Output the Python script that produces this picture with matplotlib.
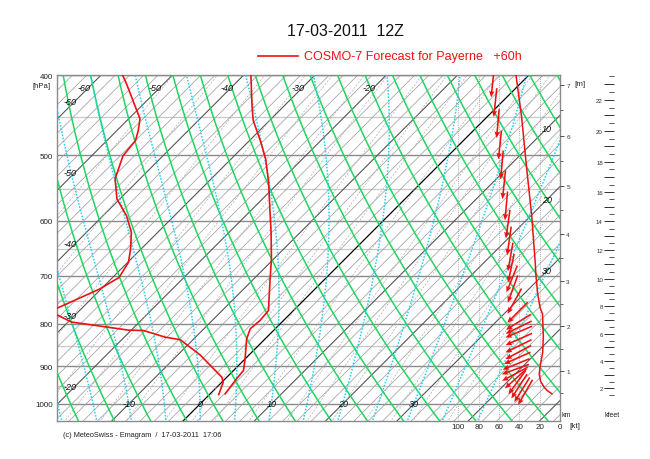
import numpy as np
import matplotlib
matplotlib.use("Agg")
import matplotlib.pyplot as plt
from matplotlib.lines import Line2D
from matplotlib.ticker import FixedLocator, NullFormatter, FixedFormatter

plt.rcParams['font.family'] = ['Liberation Sans', 'DejaVu Sans']

# ---------------- data ----------------
title = "17-03-2011  12Z"
legend_text = "COSMO-7 Forecast for Payerne   +60h"
footer = "(c) MeteoSwiss - Emagram  /  17-03-2011  17:06"

temp_p = [400, 436, 454, 480, 505, 539, 576, 620, 668, 706, 771, 793, 811, 834, 882, 911, 933, 972]
temp_t = [-39.0, -34.5, -32.3, -28.5, -25.2, -21.5, -18.0, -14.1, -10.3, -7.7, -3.5, -3.3, -3.5, -2.6, 0.0, 1.4, 1.6, 2.1]

dew_p = [400, 410, 452, 467, 480, 501, 534, 565, 592, 620, 649, 674, 703, 726, 766, 773, 780, 796, 814, 815, 830, 836, 872, 928, 941, 974]
dew_t = [-57.0, -55.2, -48.4, -47.0, -46.0, -45.6, -43.5, -40.4, -36.7, -33.7, -31.5, -29.9, -29.1, -30.2, -33.5, -36.0, -32.6, -29.5, -20.4, -18.2, -14.3, -11.8, -6.9, -0.7, 0.2, 1.3]

speed_p = [400, 450, 520, 592, 668, 700, 733, 764, 778, 827, 866, 903, 920, 938, 954, 964, 972]
speed_kt = [43.3, 37.7, 32.7, 27.8, 24.6, 23.6, 22.1, 19.7, 17.2, 16.4, 17.0, 19.7, 20.4, 19.2, 15.7, 12.3, 7.9]

wind_p = [409, 432, 458, 486, 514, 543, 576, 606, 635, 664, 685, 706, 726, 751, 775,
          796, 808, 818, 835, 851, 866, 880, 895, 908, 920, 932, 942, 952, 961, 968]
wind_dir = [6, 6, 5, 6, 5, 6, 5, 8, 8, 10, 12, 22, 20, 29, 45,
            58, 64, 67, 66, 64, 62, 66, 68, 70, 62, 48, 36, 33, 32, 30]

pressure_levels = [400, 500, 600, 700, 800, 900, 1000]
half_levels = [450, 550, 650, 750, 850, 950]
height_km = [1, 2, 3, 4, 5, 6, 7]
height_p = [912, 805, 710, 623, 545, 474, 411]
kt_ticks = [100, 80, 60, 40, 20, 0]
bottom_labels = [-10, 0, 10, 20, 30]
top_labels = [-60, -50, -40, -30, -20]
left_labels = [-60, -50, -40, -30, -20]
right_labels = [10, 20, 30]
kfeet_labels = [2, 4, 6, 8, 10, 12, 14, 16, 18, 20, 22]

# ---------------- geometry ----------------
W, H = 650, 460
L, R, T_, B = 57, 560, 76, 422
K = 50.35
TMIN, TMAX = -20.06, 50.49
PBOT, PTOP = 1048.5, 400.0
eps = 0.622


def skew(t, p):
    return np.asarray(t) + K * np.log(1000.0 / np.asarray(p, dtype=float))


fig = plt.figure(figsize=(W / 100, H / 100), dpi=100)
ax = fig.add_axes([L / W, (H - B) / H, (R - L) / W, (B - T_) / H])
ax.set_yscale('log')
ax.set_ylim(PBOT, PTOP)
ax.set_xlim(TMIN, TMAX)
ax.set_xticks([])
for s in ax.spines.values():
    s.set_color('#8a8a8a')
    s.set_linewidth(1.0)

pp = np.geomspace(PBOT + 5, PTOP - 5, 200)

# isobars
for p in half_levels:
    ax.axhline(p, color='#c8c8c8', lw=0.9, zorder=1)
for p in pressure_levels:
    ax.axhline(p, color='#8a8a8a', lw=1.0, zorder=1)

# isotherms
for t in range(-72, 56, 2):
    if t == 0:
        c, lw = '#000000', 0.9
    elif t % 10 == 0:
        c, lw = '#555555', 0.8
    else:
        c, lw = '#a0a0a0', 0.55
    ax.plot(skew(t, pp), pp, color=c, lw=lw, zorder=2)

# mixing ratio lines
for w in [0.1, 0.2, 0.4, 0.7, 1, 1.5, 2, 3, 4, 5, 7, 10, 12, 15, 20, 25, 30, 40]:
    e = (w / 1000.0) * pp / (eps + w / 1000.0)
    a = np.log(e / 6.112)
    tc = 243.5 * a / (17.67 - a)
    ax.plot(skew(tc, pp), pp, color='#b0b0b0', lw=0.5, ls=(0, (3, 2)), zorder=2)

# dry adiabats
for th in range(200, 400, 5):
    tt = th * (pp / 1000.0) ** 0.2857 - 273.15
    ax.plot(skew(tt, pp), pp, color='#1fd660', lw=1.1, zorder=3)


# saturated adiabats
def dTdp(Tk, p):
    Rd, cp, Lv = 287.04, 1005.7, 2.501e6
    tc = Tk - 273.15
    es = 6.112 * np.exp(17.67 * tc / (tc + 243.5))
    rs = eps * es / (p - es)
    num = (Rd * Tk + Lv * rs) / p
    den = cp + Lv * Lv * rs * eps / (Rd * Tk * Tk)
    return num / den


def moist(t0, p_end, dp):
    ps = [1000.0]
    ts = [t0 + 273.15]
    p = 1000.0
    Tk = t0 + 273.15
    while (dp < 0 and p > p_end) or (dp > 0 and p < p_end):
        k1 = dTdp(Tk, p)
        k2 = dTdp(Tk + 0.5 * dp * k1, p + 0.5 * dp)
        k3 = dTdp(Tk + 0.5 * dp * k2, p + 0.5 * dp)
        k4 = dTdp(Tk + dp * k3, p + dp)
        Tk += dp * (k1 + 2 * k2 + 2 * k3 + k4) / 6
        p += dp
        ps.append(p)
        ts.append(Tk)
    return np.array(ps), np.array(ts) - 273.15


for tw in range(-25, 45, 5):
    pu, tu = moist(tw, PTOP - 5, -2.0)
    pd, td = moist(tw, PBOT + 5, 2.0)
    P = np.concatenate([pd[::-1], pu[1:]])
    Tt = np.concatenate([td[::-1], tu[1:]])
    ax.plot(skew(Tt, P), P, color='#22d0f2', lw=1.1, ls=(0, (1, 1.1)), zorder=3)

# isotherm labels
lab_kw = dict(fontsize=6.5, style='italic', ha='center', va='center', color='#111111', zorder=6)
for t in bottom_labels:
    ax.text(skew(t, 1000), 1000, str(t), **lab_kw)
for t in top_labels:
    ax.annotate(str(t), (skew(t, 421.7), 421.7), xytext=(2, 6), textcoords='offset pixels', **lab_kw)
xl = TMIN + 13 / 7.13
for t in left_labels:
    f = (xl - t) / K
    p = 1000 * np.exp(-f)
    ax.annotate(str(t), (xl, p), xytext=(0, 5), textcoords='offset pixels', **lab_kw)
xr = TMIN + (547 - L) / 7.13
for t in right_labels:
    f = (xr - t) / K
    p = 1000 * np.exp(-f)
    ax.text(xr, p, str(t), **lab_kw)

# profiles
ax.plot(skew(temp_t, temp_p), temp_p, color='#ee1111', lw=1.2, zorder=8)
ax.plot(skew(dew_t, dew_p), dew_p, color='#ee1111', lw=1.2, zorder=8)

# ---------------- wind panel ----------------
axw = ax.twiny()
kt_left = (R - L) / 1.017
axw.set_xlim(kt_left, 0)
axw.xaxis.set_ticks_position('bottom')
axw.xaxis.set_label_position('bottom')
axw.set_xticks(kt_ticks)
axw.set_xticklabels([str(k) for k in kt_ticks])
axw.tick_params(axis='x', length=0, labelsize=5.8, pad=1.5, colors='#222222')
for s in axw.spines.values():
    s.set_visible(False)
for k in kt_ticks:
    axw.axvline(k, color='#9a9a9a', lw=0.6, ls=(0, (1, 1.5)), zorder=4)
axw.plot(speed_kt, speed_p, color='#ee1111', lw=1.1, zorder=8)

wd = np.radians(wind_dir)
wu = -np.sin(wd)
wv = -np.cos(wd)
wx = np.interp(np.log(wind_p), np.log(speed_p), speed_kt) + 24
axw.quiver(wx, wind_p, wu * 29, wv * 29, color='#ee1111', units='dots', scale=1,
           scale_units='dots', angles='uv', pivot='middle', width=1.6, headwidth=3.4,
           headlength=4.0, headaxislength=3.6, zorder=9)
fig.text((R + 15) / W, 1 - 427 / H, "[kt]", fontsize=5.8, ha='center', va='center', color='#222222')

# main pressure axis labels (after twins)
ax.yaxis.set_major_locator(FixedLocator(pressure_levels))
ax.yaxis.set_major_formatter(FixedFormatter([str(p) for p in pressure_levels]))
ax.yaxis.set_minor_locator(FixedLocator([]))
ax.yaxis.set_minor_formatter(NullFormatter())
ax.tick_params(axis='y', which='both', length=0, labelsize=5.8, pad=3, colors='#222222')
ax.text(-0.012, 1.0 - 10 / (B - T_), "[hPa]", transform=ax.transAxes, ha='right', va='center',
        fontsize=5.6, color='#222222')


# ---------------- height axes ----------------
def h2p(h):
    h = np.asarray(h, dtype=float)
    lp = np.log(height_p)
    hk = np.asarray(height_km, dtype=float)
    out = np.interp(h, hk, lp)
    lo = h < hk[0]
    out[lo] = lp[0] + (h[lo] - hk[0]) * (lp[1] - lp[0]) / (hk[1] - hk[0])
    hi = h > hk[-1]
    out[hi] = lp[-1] + (h[hi] - hk[-1]) * (lp[-1] - lp[-2]) / (hk[-1] - hk[-2])
    return np.exp(out)


axh = ax.twinx()
axh.set_yscale('log')
axh.set_ylim(PBOT, PTOP)
axh.yaxis.set_major_locator(FixedLocator(list(h2p(height_km))))
axh.yaxis.set_major_formatter(FixedFormatter([str(h) for h in height_km]))
axh.yaxis.set_minor_locator(FixedLocator(list(h2p(np.arange(0.5, 7.6, 1.0)))))
axh.yaxis.set_minor_formatter(NullFormatter())
axh.tick_params(axis='y', which='major', length=3, width=0.6, labelsize=4.6, pad=1.5, colors='#333333')
axh.tick_params(axis='y', which='minor', length=2, width=0.6, colors='#555555')
for s in axh.spines.values():
    s.set_visible(False)
fig.text(580 / W, 1 - 84 / H, "[m]", fontsize=5.8, ha='center', va='center', color='#222222')
fig.text(566 / W, 1 - 416 / H, "km", fontsize=5.0, ha='center', va='center', color='#222222')

axk = fig.add_axes([614 / W, (H - B) / H, 0.001, (B - T_) / H])
axk.set_yscale('log')
axk.set_ylim(PBOT, PTOP)
axk.set_xticks([])
kf_all = np.arange(2, 24, 1)
axk.yaxis.set_major_locator(FixedLocator(list(h2p(kf_all * 0.3048))))
axk.yaxis.set_major_formatter(FixedFormatter([str(k) if k in kfeet_labels else '' for k in kf_all]))
axk.yaxis.set_minor_locator(FixedLocator(list(h2p((np.arange(1.5, 24, 1.0)) * 0.3048))))
axk.yaxis.set_minor_formatter(NullFormatter())
axk.tick_params(axis='y', which='major', length=7, width=0.7, labelsize=4.4, pad=1, colors='#333333')
axk.tick_params(axis='y', which='minor', length=3.5, width=0.7, colors='#555555')
for s in axk.spines.values():
    s.set_visible(False)
fig.text(612 / W, 1 - 416 / H, "kfeet", fontsize=5.0, ha='center', va='center', color='#222222')

# ---------------- titles ----------------
fig.text(345 / W, 1 - 32 / H, title, fontsize=11.5, ha='center', va='center', color='#111111')
fig.add_artist(Line2D([258 / W, 298 / W], [1 - 57 / H, 1 - 57 / H], color='#ee1111', lw=1.2))
fig.text(304 / W, 1 - 57 / H, legend_text, fontsize=9, ha='left', va='center', color='#ee1111')
fig.text(63 / W, 1 - 436 / H, footer, fontsize=5.3, ha='left', va='center', color='#222222')

fig.savefig("out.png", dpi=100)
